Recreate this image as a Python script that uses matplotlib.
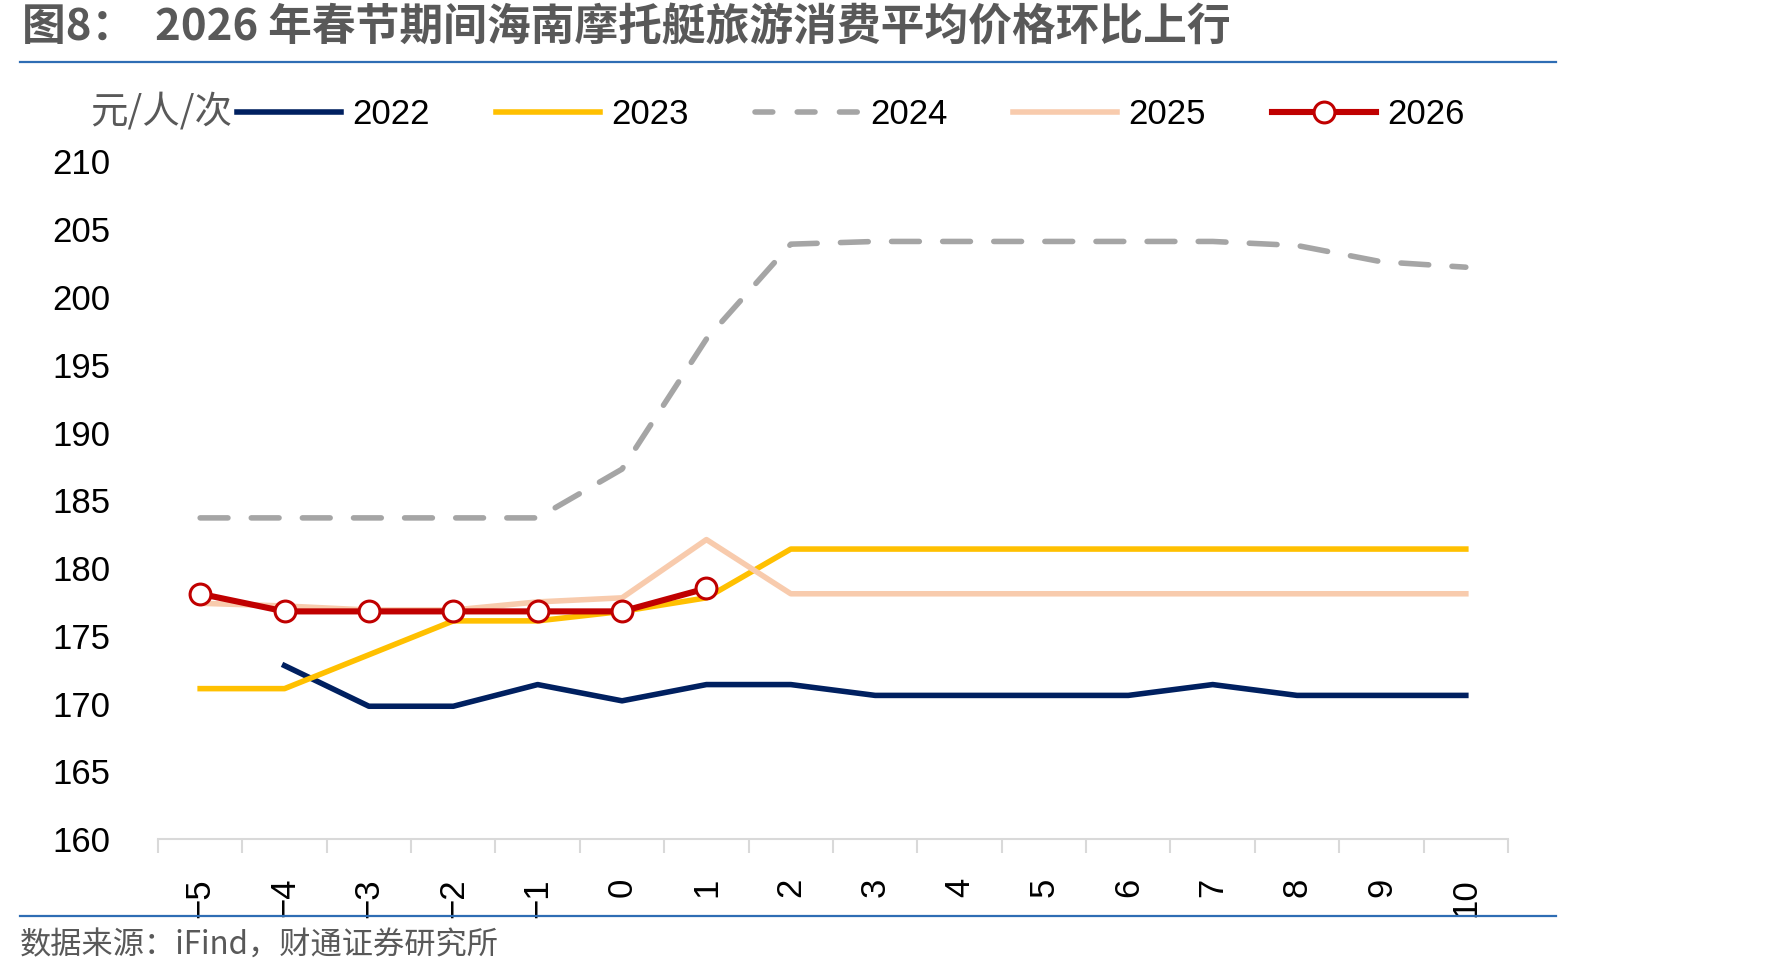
import matplotlib
matplotlib.use("Agg")
import matplotlib.pyplot as plt
from matplotlib.lines import Line2D

# days relative to Spring Festival
days = [-5, -4, -3, -2, -1, 0, 1, 2, 3, 4, 5, 6, 7, 8, 9, 10]
day_labels = ["−5", "−4", "−3", "−2", "−1", "0", "1", "2", "3", "4", "5", "6", "7", "8", "9", "10"]

price_2022 = [None, 172.8, 169.8, 169.8, 171.4, 170.2, 171.4, 171.4, 170.6, 170.6, 170.6, 170.6, 171.4, 170.6, 170.6, 170.6]
price_2023 = [171.1, 171.1, 173.6, 176.1, 176.1, 176.8, 177.8, 181.4, 181.4, 181.4, 181.4, 181.4, 181.4, 181.4, 181.4, 181.4]
price_2024 = [183.7, 183.7, 183.7, 183.7, 183.7, 187.3, 196.9, 203.9, 204.1, 204.1, 204.1, 204.1, 204.1, 203.8, 202.6, 202.2]
price_2025 = [177.4, 177.2, 176.9, 176.9, 177.5, 177.8, 182.1, 178.1, 178.1, 178.1, 178.1, 178.1, 178.1, 178.1, 178.1, 178.1]
price_2026 = [178.1, 176.8, 176.8, 176.8, 176.8, 176.8, 178.5]

y_ticks = [160, 165, 170, 175, 180, 185, 190, 195, 200, 205, 210]

NUM_FONT = ["Liberation Sans Narrow", "Liberation Sans", "Noto Sans CJK SC"]
CJK_FONT = ["Noto Sans CJK SC", "DejaVu Sans"]
LW = 4.0

fig = plt.figure(figsize=(17.71, 9.77), dpi=100)
ax = fig.add_axes([0.0892, 0.1412, 0.7623, 0.6935])


def split(xs, ys):
    pts = [(x, y) for x, y in zip(xs, ys) if y is not None]
    return [p[0] for p in pts], [p[1] for p in pts]


x, y = split(days, price_2022)
ax.plot(x, y, color="#002060", lw=LW, label="2022")
ax.plot(days, price_2023, color="#FFC000", lw=LW, label="2023")
ax.plot(days, price_2024, color="#A5A5A5", lw=LW, dashes=(5.0, 4.2),
        dash_capstyle="round", label="2024")
ax.plot(days, price_2025, color="#F8CBAD", lw=LW, label="2025")
ax.plot(days[:len(price_2026)], price_2026, color="#C00000", lw=4.4,
        marker="o", markersize=15, markerfacecolor="white",
        markeredgecolor="#C00000", markeredgewidth=2.2, label="2026", zorder=5)

ax.set_xlim(-5.5, 10.5)
ax.set_ylim(160, 210)
ax.set_yticks(y_ticks)
ax.set_yticklabels([str(v) for v in y_ticks], family=NUM_FONT, fontsize=25)
ax.set_xticks(days)
ax.set_xticklabels(day_labels, rotation=90, family=NUM_FONT, fontsize=25,
                   va="top", ha="center")
ax.set_xticks([d - 0.5 for d in days] + [10.5], minor=True)
ax.tick_params(axis="x", which="major", length=0, pad=28)
ax.tick_params(axis="x", which="minor", length=10, width=1.5, color="#D9D9D9")
ax.tick_params(axis="y", length=0, pad=34)

for side in ["top", "right", "left"]:
    ax.spines[side].set_visible(False)
ax.spines["bottom"].set_color("#D9D9D9")
ax.spines["bottom"].set_linewidth(1.5)

handles = [
    Line2D([], [], color="#002060", lw=LW),
    Line2D([], [], color="#FFC000", lw=LW),
    Line2D([], [], color="#A5A5A5", lw=LW, dashes=(3.2, 4.4), dash_capstyle="round"),
    Line2D([], [], color="#F8CBAD", lw=LW),
    Line2D([], [], color="#C00000", lw=4.4, marker="o", markersize=15,
           markerfacecolor="white", markeredgecolor="#C00000", markeredgewidth=2.2),
]
fig.legend(handles, ["2022", "2023", "2024", "2025", "2026"], ncol=5,
           loc="center left", bbox_to_anchor=(237 / 1771, 1 - 115 / 977),
           frameon=False, borderpad=0, borderaxespad=0, handlelength=3.0,
           handletextpad=0.32, columnspacing=1.9,
           prop={"family": NUM_FONT, "size": 25})

fig.text(90 / 1771, 1 - 112 / 977, "元/人/次", family=CJK_FONT, fontsize=27,
         color="#595959", va="center", ha="left")

fig.text(22 / 1771, 1 - 27 / 977, "图8：  2026 年春节期间海南摩托艇旅游消费平均价格环比上行",
         family=CJK_FONT, fontsize=31.5, fontweight="bold", color="#595959",
         va="center", ha="left")

fig.add_artist(Line2D([20 / 1771, 1556 / 1771], [1 - 62 / 977, 1 - 62 / 977],
                      color="#2E6DB4", lw=1.6))
fig.add_artist(Line2D([20 / 1771, 1556 / 1771], [1 - 916 / 977, 1 - 916 / 977],
                      color="#2E6DB4", lw=1.6))

fig.text(20 / 1771, 1 - 946 / 977, "数据来源：iFind，财通证券研究所", family=CJK_FONT,
         fontsize=22.5, color="#595959", va="center", ha="left")

fig.savefig("out.png", dpi=100)
